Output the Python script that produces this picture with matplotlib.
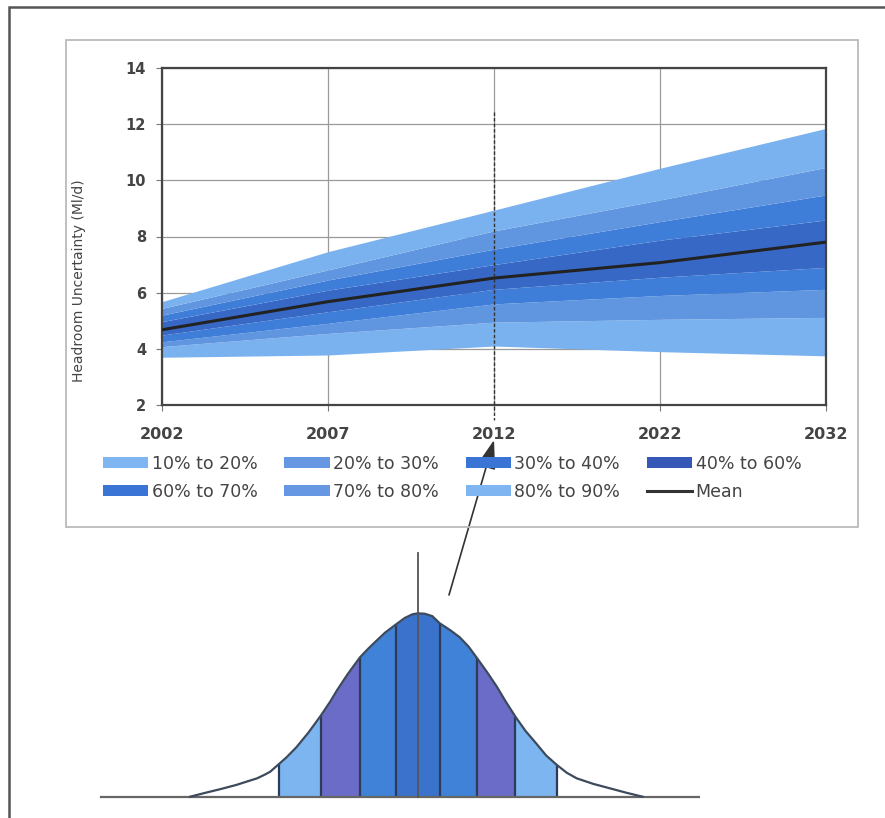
import numpy as np
import matplotlib
matplotlib.use("Agg")
import matplotlib.pyplot as plt
from matplotlib.patches import Patch, Rectangle
from matplotlib.lines import Line2D

# --- data ---
YEARS = ["2002", "2007", "2012", "2022", "2032"]

# percentile boundaries of headroom uncertainty (Ml/d) at each year
P10 = [3.70, 3.78, 4.10, 3.90, 3.75]
P20 = [4.08, 4.55, 4.95, 5.05, 5.12]
P30 = [4.25, 4.91, 5.60, 5.90, 6.12]
P40 = [4.49, 5.32, 6.12, 6.55, 6.90]
P60 = [4.97, 6.09, 7.00, 7.87, 8.59]
P70 = [5.20, 6.45, 7.55, 8.53, 9.48]
P80 = [5.44, 6.81, 8.20, 9.30, 10.46]
P90 = [5.68, 7.46, 8.94, 10.43, 11.85]
MEAN = [4.68, 5.68, 6.52, 7.07, 7.80]

BAND_LABELS = ["10% to 20%", "20% to 30%", "30% to 40%", "40% to 60%",
               "60% to 70%", "70% to 80%", "80% to 90%"]

# schematic bell curve below the chart (z = offset in spread units, h = relative height)
BELL_Z = [-2.08, -1.95, -1.80, -1.66, -1.55, -1.47, -1.40, -1.35, -1.27, -1.20,
          -1.11, -1.00, -0.89, -0.80, -0.74, -0.64, -0.53, -0.45, -0.38, -0.30,
          -0.20, -0.12, -0.05, 0.0, 0.06, 0.13, 0.20, 0.29, 0.38, 0.46,
          0.54, 0.63, 0.72, 0.80, 0.89, 0.98, 1.08, 1.17, 1.27, 1.36,
          1.45, 1.60, 1.75, 1.90, 2.05]
BELL_H = [0.0, 0.020, 0.042, 0.064, 0.085, 0.10, 0.12, 0.136, 0.178, 0.215,
          0.27, 0.35, 0.44, 0.52, 0.58, 0.67, 0.76, 0.81, 0.85, 0.895,
          0.94, 0.975, 0.995, 1.0, 0.998, 0.985, 0.945, 0.91, 0.87, 0.82,
          0.755, 0.68, 0.60, 0.52, 0.436, 0.36, 0.29, 0.225, 0.172, 0.13,
          0.10, 0.07, 0.046, 0.022, 0.0]
BELL_EDGES = [-1.27, -0.89, -0.53, -0.20, 0.20, 0.54, 0.89, 1.27]

# colours
LIGHT = "#7ab2ef"
MEDIUM = "#6095e0"
BRIGHT = "#3e7ed8"
DARK = "#3868c6"
BAND_COLORS = [LIGHT, MEDIUM, BRIGHT, DARK, BRIGHT, MEDIUM, LIGHT]
LEGEND_COLORS = ["#7fb6f1", "#6597e2", "#3a74d4", "#3558b8",
                 "#3a74d4", "#6597e2", "#7fb6f1"]
BELL_COLORS = ["#7cb5f0", "#6a6cc8", "#3f82d8", "#3a72cc",
               "#3f82d8", "#6a6cc8", "#7cb5f0"]
TXT = "#444444"


def draw_fan(ax):
    x = np.arange(len(YEARS))
    bounds = [P10, P20, P30, P40, P60, P70, P80, P90]
    for i in range(7):
        ax.fill_between(x, bounds[i], bounds[i + 1], color=BAND_COLORS[i],
                        linewidth=0, zorder=2)
    ax.plot(x, MEAN, color="#222222", lw=2.2, zorder=4)

    ax.set_xlim(0, len(YEARS) - 1)
    ax.set_ylim(2, 14)
    ax.set_xticks(x)
    ax.set_xticklabels(YEARS)
    ax.set_yticks(np.arange(2, 15, 2))
    ax.grid(True, color="#9a9a9a", lw=0.9, zorder=1)
    ax.set_axisbelow(True)
    for s in ax.spines.values():
        s.set_color("#444444")
        s.set_linewidth(1.6)
    ax.tick_params(axis="y", length=4.5, color="#777777", pad=7,
                   labelsize=10.5, labelcolor=TXT)
    ax.tick_params(axis="x", length=4, color="#777777", pad=12,
                   labelsize=11.5, labelcolor=TXT)
    for lab in ax.get_xticklabels() + ax.get_yticklabels():
        lab.set_fontweight("bold")
    ax.set_ylabel("Headroom Uncertainty (Ml/d)", fontsize=10, color=TXT)
    ax.yaxis.set_label_coords(-0.1145, 0.37)

    # dashed marker at 2012
    ax.plot([2, 2], [12.45, 1.45], color="#333333", lw=1.0,
            ls=(0, (2.5, 1.5)), zorder=5, clip_on=False)


def draw_bell(axb):
    z = np.array(BELL_Z)
    h = np.array(BELL_H)
    for i in range(7):
        a, b = BELL_EDGES[i], BELL_EDGES[i + 1]
        m = (z >= a - 1e-9) & (z <= b + 1e-9)
        axb.fill_between(z, 0, h, where=m, color=BELL_COLORS[i], lw=0, zorder=2)
    axb.plot(z, h, color="#3c4a5c", lw=1.6, zorder=4, solid_joinstyle="round")
    edge_h = [h[np.isclose(z, e)][0] for e in BELL_EDGES]
    axb.vlines(BELL_EDGES, 0, edge_h, color="#2c3c58", lw=1.6, zorder=3)
    axb.plot([0, 0], [0, 1.33], color="#555555", lw=1.3, zorder=5)
    axb.axhline(0, xmin=0.018, xmax=1, color="#666666", lw=1.6, zorder=3)
    axb.set_xlim(-2.995, 2.575)
    axb.set_ylim(-0.018, 1.40)
    axb.axis("off")


def main():
    fig = plt.figure(figsize=(8.85, 8.18), dpi=100)

    # page frame and chart box
    fig.add_artist(Rectangle((9 / 885, -0.2), 1.5, 1.2 - 7 / 818,
                             transform=fig.transFigure, fill=False,
                             ec="#555555", lw=1.8))
    fig.add_artist(Rectangle((66 / 885, 1 - 527 / 818), 792 / 885, 487 / 818,
                             transform=fig.transFigure, fill=False,
                             ec="#bbbbbb", lw=1.3))

    ax = fig.add_axes([162 / 885, 1 - 405 / 818, 664 / 885, 337 / 818])
    draw_fan(ax)

    handles = [Patch(facecolor=c, edgecolor="none") for c in LEGEND_COLORS]
    handles.append(Line2D([], [], color="#333333", lw=2.2))
    labels = BAND_LABELS + ["Mean"]
    order = [0, 4, 1, 5, 2, 6, 3, 7]
    fig.legend([handles[i] for i in order], [labels[i] for i in order],
               loc="upper left", bbox_to_anchor=(103 / 885, 1 - 455 / 818),
               ncol=4, frameon=False, fontsize=12.5, labelcolor=TXT,
               handlelength=2.6, handleheight=0.6, handletextpad=0.2,
               columnspacing=1.55, labelspacing=0.55, borderpad=0,
               borderaxespad=0)

    axb = fig.add_axes([90 / 885, 1 - 800 / 818, 610 / 885, 260 / 818])
    draw_bell(axb)

    ax.annotate("", xy=(2, -0.104), xycoords=ax.get_xaxis_transform(),
                xytext=(0.283, 1.10), textcoords=axb.transData,
                arrowprops=dict(arrowstyle="-|>,head_length=0.9,head_width=0.3",
                                color="#333333", lw=1.2, mutation_scale=20,
                                shrinkA=0, shrinkB=0),
                annotation_clip=False)

    fig.savefig("out.png", dpi=100)
    plt.close(fig)


if __name__ == "__main__":
    main()
